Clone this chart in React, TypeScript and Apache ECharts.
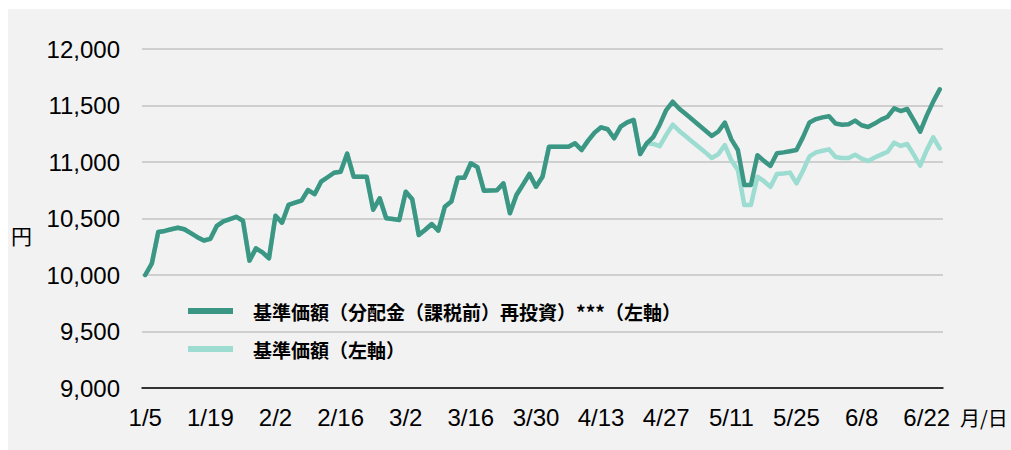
import React, { useEffect, useRef } from 'react';
import * as echarts from 'echarts';

// Weekday categories (month/day)
const categories = [
  '1/5','1/6','1/7','1/8','1/9','1/12','1/13','1/14','1/15','1/16',
  '1/19','1/20','1/21','1/22','1/23','1/26','1/27','1/28','1/29','1/30',
  '2/2','2/3','2/4','2/5','2/6','2/9','2/10','2/11','2/12','2/13',
  '2/16','2/17','2/18','2/19','2/20','2/23','2/24','2/25','2/26','2/27',
  '3/2','3/3','3/4','3/5','3/6','3/9','3/10','3/11','3/12','3/13',
  '3/16','3/17','3/18','3/19','3/20','3/23','3/24','3/25','3/26','3/27',
  '3/30','3/31','4/1','4/2','4/3','4/6','4/7','4/8','4/9','4/10',
  '4/13','4/14','4/15','4/16','4/17','4/20','4/21','4/22','4/23','4/24',
  '4/27','4/28','4/29','4/30','5/1','5/4','5/5','5/6','5/7','5/8',
  '5/11','5/12','5/13','5/14','5/15','5/18','5/19','5/20','5/21','5/22',
  '5/25','5/26','5/27','5/28','5/29','6/1','6/2','6/3','6/4','6/5',
  '6/8','6/9','6/10','6/11','6/12','6/15','6/16','6/17','6/18','6/19',
  '6/22','6/23','6/24'
];

// Values common to both series (before the first distribution)
const sharedValues = [
  10000, 10100, 10380, 10390, 10405, 10418, 10405, 10370, 10335, 10305,
  10320, 10435, 10475, 10495, 10515, 10480, 10127, 10236, 10200, 10148,
  10525, 10463, 10620, 10640, 10658, 10752, 10715, 10826, 10865, 10905,
  10914, 11074, 10870, 10870, 10870, 10578, 10679, 10502, 10495, 10487,
  10737, 10670, 10354, 10400, 10451, 10392, 10604, 10650, 10861, 10861,
  10989, 10955, 10746, 10748, 10750, 10811, 10546, 10708, 10800, 10894,
  10781, 10870, 11135, 11135, 11135, 11135, 11165, 11106, 11189, 11260,
  11307, 11290, 11210, 11313, 11350, 11372, 11071, 11165
];

// 基準価額（分配金（課税前）再投資）
const reinvestedTail = [
  11220, 11330, 11460, 11534, 11472, 11424, 11376, 11327, 11279, 11231,
  11270, 11348, 11200, 11106, 10796, 10796, 11060, 11010, 10965, 11077,
  11085, 11095, 11106, 11220, 11350, 11380, 11395, 11405, 11340, 11330,
  11335, 11366, 11325, 11310, 11340, 11375, 11401, 11475, 11451, 11469,
  11370, 11268, 11410, 11534, 11643
];

// 基準価額
const navTail = [
  11160, 11140, 11240, 11330, 11275, 11228, 11180, 11133, 11085, 11035,
  11070, 11150, 11015, 10929, 10619, 10619, 10870, 10830, 10780, 10894,
  10898, 10906, 10811, 10923, 11050, 11085, 11100, 11112, 11045, 11035,
  11035, 11065, 11030, 11008, 11040, 11065, 11091, 11171, 11142, 11159,
  11065, 10967, 11105, 11218, 11120
];

const reinvestedValues = sharedValues.concat(reinvestedTail);
const navValues = sharedValues.concat(navTail);

const seriesNames = ['基準価額（分配金（課税前）再投資）***（左軸）', '基準価額（左軸）'];
const seriesColors = ['#3b9784', '#9cdcd1'];
const yMin = 9000;
const yMax = 12000;
const yInterval = 500;

const latin = 'Liberation Sans, Arial, sans-serif';
const cjk = 'Noto Sans CJK JP, sans-serif';

export default function App() {
  const ref = useRef<HTMLDivElement>(null);
  useEffect(() => {
    if (!ref.current) return;
    const chart = echarts.init(ref.current, null, { renderer: 'svg' });
    chart.setOption({
      animation: false,
      backgroundColor: '#f2f2f2',
      grid: { left: 134, right: 68, top: 40, bottom: 62, containLabel: false },
      xAxis: {
        type: 'category',
        data: categories,
        boundaryGap: true,
        axisLine: { lineStyle: { color: '#000', width: 1.5 } },
        axisTick: { show: false },
        axisLabel: {
          interval: 9,
          margin: 17,
          fontSize: 24,
          color: '#000',
          fontFamily: latin,
          hideOverlap: false,
        },
        splitLine: { show: false },
      },
      yAxis: {
        type: 'value',
        min: yMin,
        max: yMax,
        interval: yInterval,
        axisLine: { show: false },
        axisTick: { show: false },
        axisLabel: {
          formatter: (v: number) => v.toLocaleString('en-US'),
          fontSize: 24,
          margin: 22,
          color: '#000',
          fontFamily: latin,
        },
        splitLine: { lineStyle: { color: '#c3c3c3', width: 1.5 } },
      },
      legend: {
        orient: 'vertical',
        left: 180,
        top: 290,
        padding: 0,
        itemWidth: 45,
        itemHeight: 6,
        itemGap: 14,
        icon: 'rect',
        selectedMode: false,
        data: seriesNames,
        textStyle: {
          fontSize: 19,
          fontWeight: 'bold',
          color: '#000',
          fontFamily: cjk,
          lineHeight: 24,
          padding: [0, 0, 0, 15],
        },
      },
      graphic: [
        {
          type: 'text',
          left: 3,
          top: 215,
          style: { text: '円', fontSize: 21, fontFamily: cjk, fill: '#000' },
        },
        {
          type: 'text',
          left: 952,
          top: 398,
          style: { text: '月/日', fontSize: 20, fontFamily: cjk, fill: '#000' },
        },
      ],
      series: [
        {
          name: seriesNames[1],
          type: 'line',
          data: navValues,
          symbol: 'none',
          z: 2,
          itemStyle: { color: seriesColors[1] },
          lineStyle: { color: seriesColors[1], width: 4.5, join: 'round', cap: 'round' },
        },
        {
          name: seriesNames[0],
          type: 'line',
          data: reinvestedValues,
          symbol: 'none',
          z: 3,
          itemStyle: { color: seriesColors[0] },
          lineStyle: { color: seriesColors[0], width: 4.5, join: 'round', cap: 'round' },
        },
      ],
    });
    return () => chart.dispose();
  }, []);
  return (
    <div
      ref={ref}
      style={{ position: 'fixed', left: 8, top: 9, width: 1003, height: 441, background: '#f2f2f2' }}
    />
  );
}
